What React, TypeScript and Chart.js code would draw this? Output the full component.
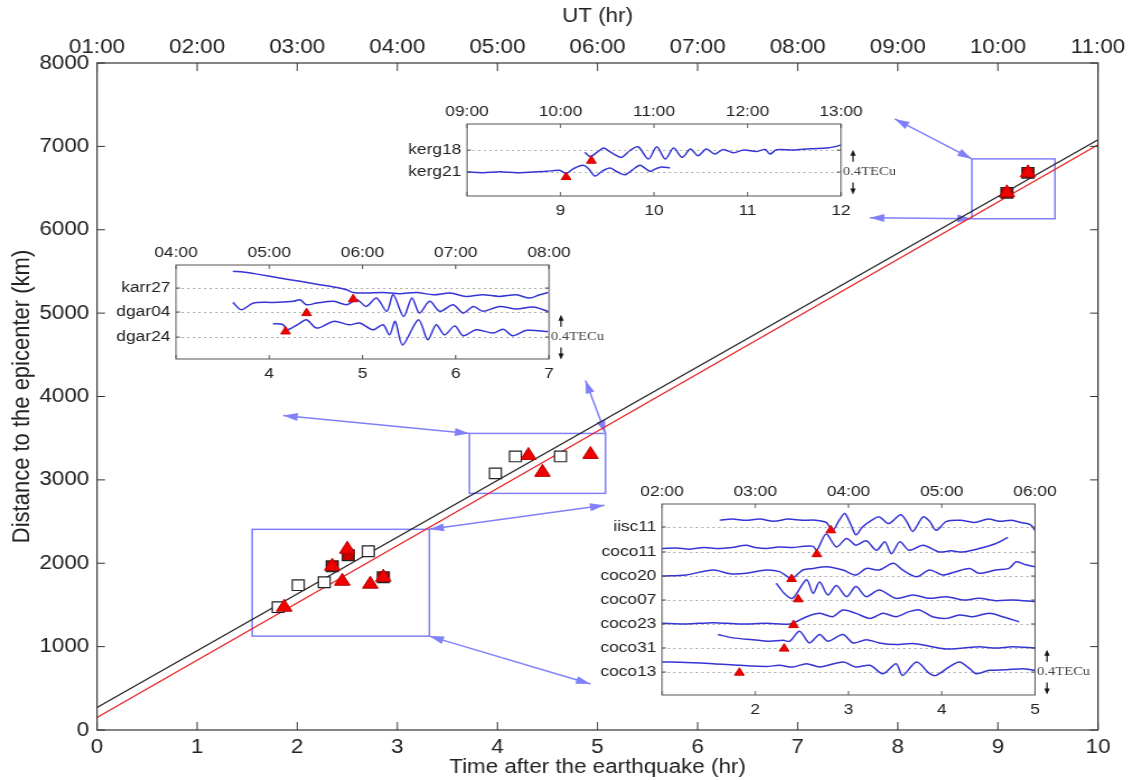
import React, { useEffect, useRef } from "react";
import { Chart, registerables } from "chart.js";

Chart.register(...registerables);

const SANS = '"Liberation Sans", Arial, Helvetica, sans-serif';
const SERIF = '"Liberation Serif", "Times New Roman", serif';
const STRETCH = 1.12; // the reference figure is slightly widened horizontally
const TRACE_BLUE = "rgb(52, 52, 212)";
const ANNOT_BLUE = "rgb(128, 128, 248)";

/* ---------------- main panel data ---------------- */
const X_TICKS = [0, 1, 2, 3, 4, 5, 6, 7, 8, 9, 10];
const Y_TICKS = [0, 1000, 2000, 3000, 4000, 5000, 6000, 7000, 8000];
const UT_LABELS = ["01:00", "02:00", "03:00", "04:00", "05:00", "06:00", "07:00", "08:00", "09:00", "10:00", "11:00"];

const FIT_T = [0, 10];
const FIT_BLACK_KM = [270, 7080];
const FIT_RED_KM = [150, 7020];

const SQ_OPEN_T = [4.18, 4.63, 3.98, 2.71, 2.01, 2.27, 1.81];
const SQ_OPEN_KM = [3281, 3281, 3078, 2144, 1737, 1772, 1473];
const SQ_FILL_T = [2.51, 2.35, 2.86, 9.09, 9.3];
const SQ_FILL_KM = [2096, 1964, 1832, 6443, 6683];
const TRI_T = [4.31, 4.45, 4.93, 2.5, 2.35, 2.45, 2.73, 2.86, 1.87, 9.09, 9.3];
const TRI_KM = [3293, 3090, 3305, 2168, 1964, 1784, 1749, 1832, 1473, 6443, 6683];

// zoom boxes and connector arrows (in main-panel data units)
const BOX_T0 = [8.74, 3.72, 1.55];
const BOX_T1 = [9.57, 5.08, 3.32];
const BOX_KM0 = [6132, 2838, 1126];
const BOX_KM1 = [6850, 3557, 2407];
const ARROW_T0 = [7.97, 7.72, 1.86, 4.88, 3.32, 3.32];
const ARROW_KM0 = [7329, 6144, 3772, 4192, 2407, 1126];
const ARROW_T1 = [8.74, 8.74, 3.72, 5.08, 5.07, 4.93];
const ARROW_KM1 = [6850, 6132, 3557, 3557, 2695, 551];

/* ---------------- inset: Kerguelen ---------------- */
const KERG_NAMES = ["kerg21", "kerg18"];
const KERG_BASE = [0.214, 0.41];
const KERG_UT = ["09:00", "10:00", "11:00", "12:00", "13:00"];
const KERG_BOTTOM = [9, 10, 11, 12];
const KERG21: [number, number][] = [
  [8.0, 0], [8.17, -0.006], [8.35, 0.003], [8.53, -0.006], [8.71, 0], [8.85, 0.006], [8.99, 0.015],
  [9.06, -0.012], [9.14, 0.03], [9.24, 0.06], [9.3, 0.03], [9.37, -0.036], [9.45, 0.01], [9.53, 0.036],
  [9.61, 0.0], [9.69, -0.024], [9.77, 0.02], [9.85, 0.06], [9.91, 0.03], [9.96, 0.006], [10.02, 0.03],
  [10.08, 0.045], [10.17, 0.036],
];
const KERG18: [number, number][] = [
  [9.26, -0.02], [9.32, -0.057], [9.39, -0.02], [9.46, 0.018], [9.52, -0.01], [9.57, -0.036], [9.65, -0.065],
  [9.74, -0.006], [9.83, 0.03], [9.94, -0.08], [10.03, 0.03], [10.12, -0.08], [10.21, 0.018], [10.3, -0.065],
  [10.39, 0.009], [10.47, -0.05], [10.56, 0.009], [10.65, -0.036], [10.74, 0.006], [10.85, -0.024],
  [10.96, 0], [11.1, -0.012], [11.19, 0.006], [11.24, -0.036], [11.31, 0.003], [11.49, 0], [11.67, 0.012],
  [11.85, 0.018], [11.93, 0.03], [12.0, 0.045],
];
const KERG_ARRIVAL: [number, number][] = [[9.06, -0.045], [9.33, -0.095]];

/* ---------------- inset: Karratha / Diego Garcia ---------------- */
const DGAR_NAMES = ["dgar24", "dgar04", "karr27"];
const DGAR_BASE = [0.196, 0.42, 0.634];
const DGAR_UT = ["04:00", "05:00", "06:00", "07:00", "08:00"];
const DGAR_BOTTOM = [4, 5, 6, 7];
const DGAR24: [number, number][] = [
  [4.04, 0.12], [4.15, 0.11], [4.19, 0.065], [4.33, 0.125], [4.4, 0.155], [4.51, 0.08], [4.69, 0.14],
  [4.86, 0.11], [4.97, 0.125], [5.11, 0.065], [5.22, 0.11], [5.29, 0.02], [5.35, 0.14], [5.43, -0.07],
  [5.6, 0.155], [5.7, -0.024], [5.79, 0.11], [5.88, 0.02], [5.99, 0.1], [6.08, 0.012], [6.22, 0.065],
  [6.4, 0.036], [6.51, 0.07], [6.61, 0.012], [6.76, 0.06], [6.99, 0.05],
];
const DGAR04: [number, number][] = [
  [3.61, 0.086], [3.7, 0.02], [3.83, 0.08], [4.04, 0.086], [4.26, 0.095], [4.33, 0.11], [4.4, 0.065],
  [4.51, 0.08], [4.69, 0.095], [4.83, 0.065], [4.94, 0.11], [5.04, 0.05], [5.15, 0.125], [5.26, 0.006],
  [5.33, 0.155], [5.44, -0.04], [5.53, 0.125], [5.61, -0.009], [5.72, 0.095], [5.83, 0.006], [5.97, 0.065],
  [6.08, -0.009], [6.19, 0.05], [6.29, 0.006], [6.47, 0.05], [6.65, 0.027], [6.83, 0.045], [6.99, 0.006],
];
const KARR27: [number, number][] = [
  [3.61, 0.15], [3.76, 0.14], [3.9, 0.12], [4.11, 0.09], [4.33, 0.06], [4.54, 0.03], [4.69, 0.01],
  [4.83, -0.015], [4.9, -0.04], [5.04, -0.045], [5.22, -0.04], [5.4, -0.05], [5.58, -0.04], [5.76, -0.06],
  [5.94, -0.045], [6.11, -0.075], [6.29, -0.06], [6.47, -0.075], [6.65, -0.06], [6.79, -0.09], [6.9, -0.06],
  [6.99, -0.04],
];
const DGAR_ARRIVAL: [number, number][] = [[4.175, 0.05], [4.4, -0.01], [4.9, -0.1]];

/* ---------------- inset: Cocos / Bangalore ---------------- */
const COCO_NAMES = ["coco13", "coco31", "coco23", "coco07", "coco20", "coco11", "iisc11"];
const COCO_BASE = [0.205, 0.42, 0.634, 0.848, 1.062, 1.277, 1.5];
const COCO_UT = ["02:00", "03:00", "04:00", "05:00", "06:00"];
const COCO_BOTTOM = [2, 3, 4, 5];
const COCO13: [number, number][] = [
  [1.0, 0.09], [1.26, 0.085], [1.55, 0.075], [1.83, 0.06], [2.12, 0.05], [2.26, 0.06], [2.4, 0.045],
  [2.55, 0.075], [2.69, 0.045], [2.94, 0.09], [3.08, 0.045], [3.23, 0.06], [3.37, -0.015], [3.51, 0.075],
  [3.58, -0.03], [3.73, 0.09], [3.87, -0.015], [3.94, -0.03], [4.08, 0.045], [4.19, 0.09], [4.3, 0.03],
  [4.37, -0.015], [4.51, 0.015], [4.69, 0.02], [4.87, 0.03], [5.0, 0.015],
];
const COCO31: [number, number][] = [
  [1.6, 0.12], [1.76, 0.09], [1.975, 0.074], [2.15, 0.06], [2.3, 0.068], [2.37, 0.06], [2.475, 0.15],
  [2.58, 0.045], [2.69, 0.12], [2.78, 0.06], [2.94, 0.12], [3.05, 0.045], [3.19, 0.074], [3.33, 0.045],
  [3.51, 0.03], [3.69, 0.04], [3.87, 0.015], [4.05, -0.01], [4.23, 0], [4.4, 0.01], [4.58, 0], [4.76, 0.01],
  [5.0, 0],
];
const COCO23: [number, number][] = [
  [1.0, 0.006], [1.26, 0], [1.55, 0.012], [1.83, 0], [2.12, 0.006], [2.37, 0], [2.55, 0.065], [2.69, 0.095],
  [2.83, 0.065], [2.94, 0.125], [3.08, 0.095], [3.23, 0.05], [3.37, 0.095], [3.51, 0.065], [3.65, 0.11],
  [3.76, 0.125], [3.9, 0.065], [4.05, 0.05], [4.19, 0.08], [4.33, 0.065], [4.51, 0.095], [4.65, 0.065],
  [4.83, 0.02],
];
const COCO07: [number, number][] = [
  [2.225, 0.15], [2.31, 0.06], [2.4, 0.015], [2.55, 0.18], [2.62, 0.06], [2.69, 0.16], [2.78, 0.045],
  [2.87, 0.13], [2.98, 0.03], [3.08, 0.12], [3.19, 0.03], [3.33, 0.09], [3.51, 0.015], [3.69, 0.045],
  [3.87, 0.015], [4.05, 0.03], [4.23, 0.0], [4.4, 0.015], [4.58, -0.006], [4.76, 0.0], [5.0, -0.015],
];
const COCO20: [number, number][] = [
  [1.0, 0], [1.26, 0.01], [1.55, 0.054], [1.73, 0.02], [1.9, 0.024], [2.12, 0.054], [2.26, 0.039],
  [2.39, -0.02], [2.51, 0.054], [2.62, 0.068], [2.76, 0.083], [2.94, 0.054], [3.08, 0.009], [3.19, 0.068],
  [3.33, 0.054], [3.48, 0.113], [3.58, 0.054], [3.73, -0.006], [3.87, 0.054], [4.01, 0.009], [4.15, 0.039],
  [4.3, 0.068], [4.4, 0.024], [4.58, 0.054], [4.72, 0.068], [4.8, 0.128], [4.9, 0.1], [5.0, 0.083],
];
const COCO11: [number, number][] = [
  [1.0, 0.03], [1.15, 0.035], [1.3, 0.025], [1.45, 0.04], [1.6, 0.03], [1.75, 0.04], [1.9, 0.06], [2.0, 0.04],
  [2.12, 0.03], [2.25, 0.045], [2.4, 0.04], [2.52, 0.05], [2.62, 0.05], [2.66, 0.015], [2.76, 0.16],
  [2.87, 0.045], [2.98, 0.12], [3.08, 0.06], [3.19, 0.1], [3.3, 0.015], [3.39, 0.09], [3.46, -0.015],
  [3.55, 0.09], [3.65, 0.015], [3.8, 0.06], [3.97, 0.0], [4.1, 0.01], [4.22, 0.0], [4.4, 0.03], [4.58, 0.075],
  [4.71, 0.13],
];
const IISC11: [number, number][] = [
  [1.62, 0.06], [1.75, 0.07], [1.9, 0.06], [2.05, 0.07], [2.2, 0.05], [2.35, 0.07], [2.5, 0.06], [2.65, 0.06],
  [2.76, 0.04], [2.83, -0.03], [2.9, 0.06], [2.96, 0.12], [3.02, 0.03], [3.08, -0.07], [3.15, 0.0], [3.25, 0.06],
  [3.33, 0.09], [3.43, 0.03], [3.56, 0.11], [3.63, 0.04], [3.69, -0.04], [3.8, 0.09], [3.87, 0.05], [3.94, -0.03],
  [4.05, 0.05], [4.2, 0.06], [4.35, 0.04], [4.5, 0.07], [4.62, 0.05], [4.75, 0.06], [4.85, 0.04], [4.95, 0.02],
  [5.0, -0.03],
];
const COCO_ARRIVAL: [number, number][] = [
  [1.83, -0.006], [2.31, -0.006], [2.41, -0.01], [2.46, 0.006], [2.39, -0.027], [2.66, -0.02], [2.81, -0.03],
];
const TECU_BAR = 0.4;

/* ---------------- layout (display pixels) ---------------- */
const MAIN_BOX = { cl: 0, ct: 0, cr: 1132, cb: 780, pl: 97, pt: 63, pr: 1098, pb: 730 };
const KERG_BOX = { cl: 395, ct: 98, cr: 895, cb: 222, pl: 467, pt: 124, pr: 841, pb: 196 };
const DGAR_BOX = { cl: 100, ct: 240, cr: 615, cb: 385, pl: 176, pt: 265, pr: 549, pb: 359 };
const COCO_BOX = { cl: 585, ct: 478, cr: 1095, cb: 718, pl: 662, pt: 504, pr: 1035, pb: 695 };

const intW = (b: any) => Math.round((b.cr - b.cl) / STRETCH);

function arrowHead(ctx: CanvasRenderingContext2D, x0: number, y0: number, x1: number, y1: number, len: number, half: number) {
  const a = Math.atan2(y1 - y0, x1 - x0);
  const c = Math.cos(a), s = Math.sin(a);
  ctx.beginPath();
  ctx.moveTo(x1, y1);
  ctx.lineTo(x1 - len * c + half * s, y1 - len * s - half * c);
  ctx.lineTo(x1 - len * c - half * s, y1 - len * s + half * c);
  ctx.closePath();
  ctx.fill();
}

const noGrid = { display: false, drawTicks: false };

function makeMain(canvas: HTMLCanvasElement) {
  const b = MAIN_BOX;
  const sx = (b.cr - b.cl) / canvas.width;
  const tickFont = { family: SANS, size: 20 };
  const deco = {
    id: "mainDeco",
    beforeDatasetsDraw(chart: any) {
      const { ctx, scales } = chart;
      const xs = scales.x, ys = scales.y;
      ctx.save();
      ctx.strokeStyle = ANNOT_BLUE;
      ctx.fillStyle = ANNOT_BLUE;
      ctx.lineWidth = 1.5;
      for (let i = 0; i < BOX_T0.length; i++) {
        const x0 = xs.getPixelForValue(BOX_T0[i]), x1 = xs.getPixelForValue(BOX_T1[i]);
        const y0 = ys.getPixelForValue(BOX_KM0[i]), y1 = ys.getPixelForValue(BOX_KM1[i]);
        ctx.strokeRect(x0, y1, x1 - x0, y0 - y1);
      }
      for (let i = 0; i < ARROW_T0.length; i++) {
        const x0 = xs.getPixelForValue(ARROW_T0[i]), y0 = ys.getPixelForValue(ARROW_KM0[i]);
        const x1 = xs.getPixelForValue(ARROW_T1[i]), y1 = ys.getPixelForValue(ARROW_KM1[i]);
        ctx.beginPath();
        ctx.moveTo(x0, y0);
        ctx.lineTo(x1, y1);
        ctx.stroke();
        arrowHead(ctx, x0, y0, x1, y1, 13, 4);
        arrowHead(ctx, x1, y1, x0, y0, 13, 4);
      }
      ctx.restore();
    },
    afterDraw(chart: any) {
      const { ctx, chartArea, scales } = chart;
      const { left, right, top, bottom } = chartArea;
      ctx.save();
      ctx.strokeStyle = "#333";
      ctx.lineWidth = 1.2;
      ctx.strokeRect(left, top, right - left, bottom - top);
      ctx.lineWidth = 1;
      ctx.beginPath();
      for (const v of X_TICKS) {
        const px = scales.x.getPixelForValue(v);
        ctx.moveTo(px, bottom); ctx.lineTo(px, bottom - 8);
        ctx.moveTo(px, top); ctx.lineTo(px, top + 8);
      }
      for (const v of Y_TICKS) {
        const py = scales.y.getPixelForValue(v);
        ctx.moveTo(left, py); ctx.lineTo(left + 8 / sx, py);
        ctx.moveTo(right, py); ctx.lineTo(right - 8 / sx, py);
      }
      ctx.stroke();
      // titles
      ctx.fillStyle = "#222";
      ctx.font = `20px ${SANS}`;
      ctx.textAlign = "center";
      ctx.textBaseline = "middle";
      const cx = (left + right) / 2;
      ctx.fillText("UT (hr)", cx, 16);
      ctx.fillText("Time after the earthquake (hr)", cx, 767);
      ctx.translate(22 / sx, (top + bottom) / 2);
      ctx.rotate(-Math.PI / 2);
      ctx.font = `22px ${SANS}`;
      ctx.fillText("Distance to the epicenter (km)", 0, 0);
      ctx.restore();
    },
  };
  const pts = (ts: number[], vs: number[]) => ts.map((t, i) => ({ x: t, y: vs[i] }));
  return new Chart(canvas, {
    type: "scatter",
    data: {
      datasets: [
        { data: pts(TRI_T, TRI_KM), pointStyle: "triangle", pointRadius: 8, backgroundColor: "#f00000", borderColor: "#b80000", borderWidth: 1 },
        { data: pts(SQ_FILL_T, SQ_FILL_KM), pointStyle: "rect", pointRadius: 7.5, backgroundColor: "#c80000", borderColor: "#222", borderWidth: 1.2 },
        { data: pts(SQ_OPEN_T, SQ_OPEN_KM), pointStyle: "rect", pointRadius: 7.5, backgroundColor: "#fff", borderColor: "#222", borderWidth: 1.2 },
        { data: pts(FIT_T, FIT_RED_KM), showLine: true, pointRadius: 0, borderColor: "#e82020", borderWidth: 1.3 },
        { data: pts(FIT_T, FIT_BLACK_KM), showLine: true, pointRadius: 0, borderColor: "#222", borderWidth: 1.3 },
      ] as any,
    },
    options: {
      responsive: false,
      animation: false,
      devicePixelRatio: 1,
      events: [],
      layout: { padding: { left: 0, top: 0, bottom: 0, right: canvas.width - (b.pr - b.cl) / sx } },
      plugins: { legend: { display: false }, tooltip: { enabled: false } },
      scales: {
        x: {
          type: "linear", position: "bottom", min: 0, max: 10,
          afterBuildTicks: (s: any) => { s.ticks = X_TICKS.map((v) => ({ value: v })); },
          afterFit: (s: any) => { s.height = b.cb - b.pb; },
          ticks: { autoSkip: false, maxRotation: 0, padding: 5, color: "#222", font: tickFont, callback: (v: any) => String(v) },
          grid: noGrid, border: { display: false },
        },
        xTop: {
          type: "linear", position: "top", min: 0, max: 10,
          afterBuildTicks: (s: any) => { s.ticks = X_TICKS.map((v) => ({ value: v })); },
          afterFit: (s: any) => { s.height = b.pt - b.ct; },
          ticks: { autoSkip: false, maxRotation: 0, padding: 4, color: "#222", font: tickFont, callback: (_v: any, i: number) => UT_LABELS[i] },
          grid: noGrid, border: { display: false },
        },
        y: {
          type: "linear", position: "left", min: 0, max: 8000,
          afterBuildTicks: (s: any) => { s.ticks = Y_TICKS.map((v) => ({ value: v })); },
          afterFit: (s: any) => { s.width = (b.pl - b.cl) / sx; },
          ticks: { autoSkip: false, padding: 7, color: "#222", font: tickFont, callback: (v: any) => String(v) },
          grid: noGrid, border: { display: false },
        },
      } as any,
    },
    plugins: [deco as any],
  });
}

type InsetSpec = {
  xMin: number; xMax: number; yMax: number;
  names: string[]; bases: number[];
  traces: [number, number][][];
  arrivals: [number, number][];
  bottomTicks: number[]; utLabels: string[];
  box: any;
};

function makeInset(canvas: HTMLCanvasElement, s: InsetSpec) {
  const b = s.box;
  const sx = (b.cr - b.cl) / canvas.width;
  const topTicks = s.utLabels.map((_, i) => s.xMin + i);
  const font = { family: SANS, size: 15.5 };
  const deco = {
    id: "insetDeco",
    beforeDatasetsDraw(chart: any) {
      const { ctx, chartArea, scales } = chart;
      ctx.save();
      ctx.strokeStyle = "#aaa";
      ctx.lineWidth = 1;
      ctx.setLineDash([2, 3]);
      ctx.beginPath();
      for (const v of s.bases) {
        const py = Math.round(scales.y.getPixelForValue(v)) + 0.5;
        ctx.moveTo(chartArea.left, py);
        ctx.lineTo(chartArea.right, py);
      }
      ctx.stroke();
      ctx.restore();
    },
    afterDraw(chart: any) {
      const { ctx, chartArea, scales } = chart;
      const { left, right, top, bottom } = chartArea;
      ctx.save();
      ctx.strokeStyle = "#555";
      ctx.lineWidth = 1;
      ctx.strokeRect(left, top, right - left, bottom - top);
      ctx.beginPath();
      for (const v of topTicks) {
        const px = scales.x.getPixelForValue(v);
        ctx.moveTo(px, bottom); ctx.lineTo(px, bottom - 4);
        ctx.moveTo(px, top); ctx.lineTo(px, top + 4);
      }
      for (const v of s.bases) {
        const py = scales.y.getPixelForValue(v);
        ctx.moveTo(left, py); ctx.lineTo(left + 4 / sx, py);
        ctx.moveTo(right, py); ctx.lineTo(right - 4 / sx, py);
      }
      ctx.stroke();
      // 0.4 TECu scale bar
      const yc = scales.y.getPixelForValue(s.bases[0]);
      const yUp = scales.y.getPixelForValue(s.bases[0] + TECU_BAR / 2);
      const yDn = scales.y.getPixelForValue(s.bases[0] - TECU_BAR / 2);
      const ax = right + 12 / sx;
      ctx.strokeStyle = "#111";
      ctx.fillStyle = "#111";
      ctx.lineWidth = 1.2;
      ctx.beginPath();
      ctx.moveTo(ax, yUp + 12); ctx.lineTo(ax, yUp + 4);
      ctx.moveTo(ax, yDn - 12); ctx.lineTo(ax, yDn - 4);
      ctx.stroke();
      arrowHead(ctx, ax, yUp + 10, ax, yUp, 6, 2.4);
      arrowHead(ctx, ax, yDn - 10, ax, yDn, 6, 2.4);
      ctx.fillStyle = "#444";
      ctx.font = `13px ${SERIF}`;
      ctx.textAlign = "left";
      ctx.textBaseline = "middle";
      ctx.fillText("0.4TECu", right + 2 / sx, yc);
      ctx.restore();
    },
  };
  const datasets: any[] = [
    {
      data: s.arrivals.map(([t, d], i) => ({ x: t, y: s.bases[i] + d })),
      pointStyle: "triangle", pointRadius: 5, backgroundColor: "#f00000", borderColor: "#d00000", borderWidth: 1,
    },
    ...s.traces.map((tr, i) => ({
      data: tr.map(([t, d]) => ({ x: t, y: s.bases[i] + d })),
      showLine: true, pointRadius: 0, borderColor: TRACE_BLUE, borderWidth: 1.5, tension: 0.3,
    })),
  ];
  return new Chart(canvas, {
    type: "scatter",
    data: { datasets },
    options: {
      responsive: false,
      animation: false,
      devicePixelRatio: 1,
      events: [],
      layout: { padding: { left: 0, top: 0, bottom: 0, right: canvas.width - (b.pr - b.cl) / sx } },
      plugins: { legend: { display: false }, tooltip: { enabled: false } },
      scales: {
        x: {
          type: "linear", position: "bottom", min: s.xMin, max: s.xMax,
          afterBuildTicks: (sc: any) => { sc.ticks = s.bottomTicks.map((v) => ({ value: v })); },
          afterFit: (sc: any) => { sc.height = b.cb - b.pb; },
          ticks: { autoSkip: false, maxRotation: 0, padding: 5, color: "#222", font, callback: (v: any) => String(v) },
          grid: noGrid, border: { display: false },
        },
        xTop: {
          type: "linear", position: "top", min: s.xMin, max: s.xMax,
          afterBuildTicks: (sc: any) => { sc.ticks = topTicks.map((v) => ({ value: v })); },
          afterFit: (sc: any) => { sc.height = b.pt - b.ct; },
          ticks: { autoSkip: false, maxRotation: 0, padding: 3, color: "#222", font, callback: (_v: any, i: number) => s.utLabels[i] },
          grid: noGrid, border: { display: false },
        },
        y: {
          type: "linear", position: "left", min: 0, max: s.yMax,
          afterBuildTicks: (sc: any) => { sc.ticks = s.bases.map((v) => ({ value: v })); },
          afterFit: (sc: any) => { sc.width = (b.pl - b.cl) / sx; },
          ticks: { autoSkip: false, padding: 5, color: "#222", font, callback: (_v: any, i: number) => s.names[i] },
          grid: noGrid, border: { display: false },
        },
      } as any,
    },
    plugins: [deco as any],
  });
}

const KERG_SPEC: InsetSpec = {
  xMin: 8, xMax: 12, yMax: 0.643, names: KERG_NAMES, bases: KERG_BASE,
  traces: [KERG21, KERG18], arrivals: KERG_ARRIVAL, bottomTicks: KERG_BOTTOM, utLabels: KERG_UT, box: KERG_BOX,
};
const DGAR_SPEC: InsetSpec = {
  xMin: 3, xMax: 7, yMax: 0.84, names: DGAR_NAMES, bases: DGAR_BASE,
  traces: [DGAR24, DGAR04, KARR27], arrivals: DGAR_ARRIVAL, bottomTicks: DGAR_BOTTOM, utLabels: DGAR_UT, box: DGAR_BOX,
};
const COCO_SPEC: InsetSpec = {
  xMin: 1, xMax: 5, yMax: 1.705, names: COCO_NAMES, bases: COCO_BASE,
  traces: [COCO13, COCO31, COCO23, COCO07, COCO20, COCO11, IISC11], arrivals: COCO_ARRIVAL,
  bottomTicks: COCO_BOTTOM, utLabels: COCO_UT, box: COCO_BOX,
};

function canvasStyle(b: any): React.CSSProperties {
  return { position: "absolute", left: b.cl, top: b.ct, width: `${b.cr - b.cl}px`, height: `${b.cb - b.ct}px` };
}

export default function App() {
  const mainRef = useRef<HTMLCanvasElement>(null);
  const kergRef = useRef<HTMLCanvasElement>(null);
  const dgarRef = useRef<HTMLCanvasElement>(null);
  const cocoRef = useRef<HTMLCanvasElement>(null);

  useEffect(() => {
    const charts: Chart[] = [];
    if (mainRef.current) charts.push(makeMain(mainRef.current));
    if (kergRef.current) charts.push(makeInset(kergRef.current, KERG_SPEC));
    if (dgarRef.current) charts.push(makeInset(dgarRef.current, DGAR_SPEC));
    if (cocoRef.current) charts.push(makeInset(cocoRef.current, COCO_SPEC));
    return () => charts.forEach((c) => c.destroy());
  }, []);

  return (
    <div style={{ position: "absolute", left: 0, top: 0, width: 1132, height: 780, background: "#fff", overflow: "hidden" }}>
      <canvas ref={mainRef} width={intW(MAIN_BOX)} height={MAIN_BOX.cb - MAIN_BOX.ct} style={canvasStyle(MAIN_BOX)} />
      <canvas ref={kergRef} width={intW(KERG_BOX)} height={KERG_BOX.cb - KERG_BOX.ct} style={canvasStyle(KERG_BOX)} />
      <canvas ref={dgarRef} width={intW(DGAR_BOX)} height={DGAR_BOX.cb - DGAR_BOX.ct} style={canvasStyle(DGAR_BOX)} />
      <canvas ref={cocoRef} width={intW(COCO_BOX)} height={COCO_BOX.cb - COCO_BOX.ct} style={canvasStyle(COCO_BOX)} />
    </div>
  );
}
